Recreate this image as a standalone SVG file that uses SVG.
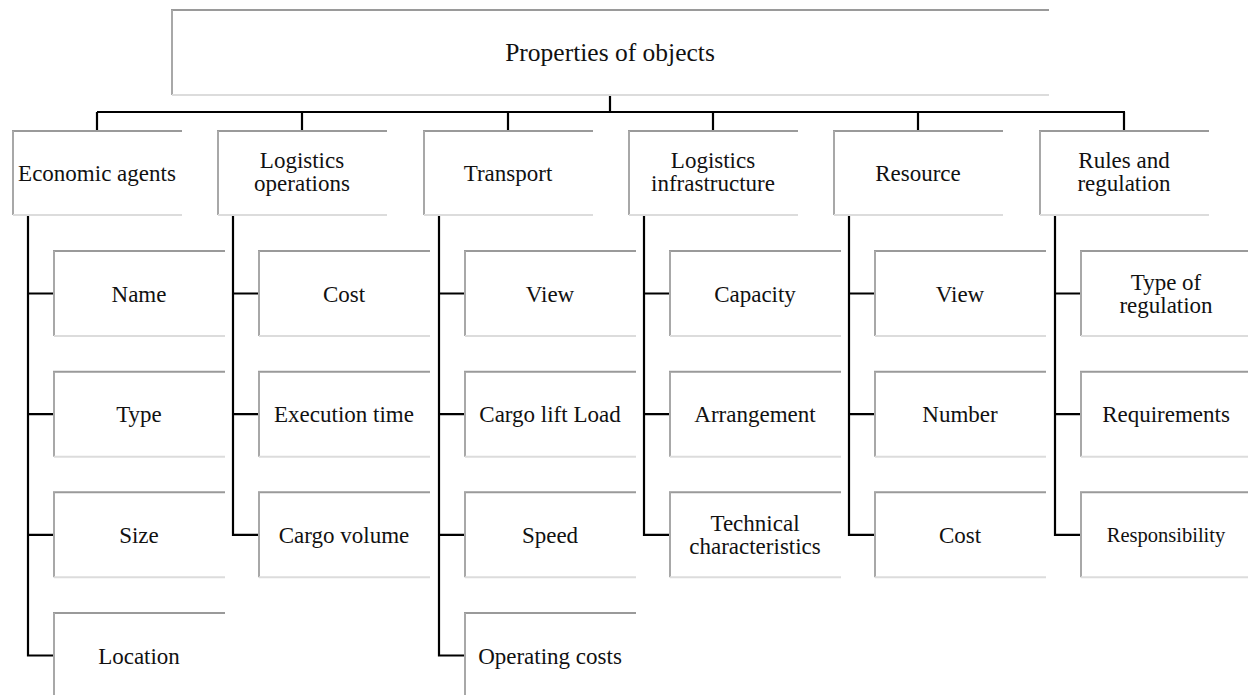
<svg xmlns="http://www.w3.org/2000/svg" width="1248" height="695" viewBox="0 0 1248 695">
<style>
.t{stroke:#9a9a9a;stroke-width:2;fill:none}
.l{stroke:#a8a8a8;stroke-width:2;fill:none}
.b{stroke:#dcdcdc;stroke-width:2;fill:none}
.c{stroke:#000;stroke-width:2.2;fill:none}
text{font-family:"Liberation Serif","Times New Roman",serif;font-size:23px;fill:#111;text-anchor:middle}
.sm{font-size:20.5px}
.lg{font-size:25.5px}
</style>
<rect width="1248" height="695" fill="#fff"/>
<g id="connectors">
<path class="c" d="M610 95V112M97 112H1125M97 112V131M302 112V131M508 112V131M713 112V131M918 112V131M1124 112V131"/>
<path class="c" d="M28 215V655.5H53M28 293.5H53M28 414.2H53M28 534.8H53"/>
<path class="c" d="M233 215V534.8H258M233 293.5H258M233 414.2H258"/>
<path class="c" d="M439 215V655.5H464M439 293.5H464M439 414.2H464M439 534.8H464"/>
<path class="c" d="M644 215V534.8H669M644 293.5H669M644 414.2H669"/>
<path class="c" d="M849 215V534.8H874M849 293.5H874M849 414.2H874"/>
<path class="c" d="M1055 215V534.8H1080M1055 293.5H1080M1055 414.2H1080"/>
</g>
<g id="root"><path class="t" d="M171 10H1049"/><path class="l" d="M172 10V95"/><path class="b" d="M172 95H1049"/><text class="lg" x="610" y="61">Properties of objects</text></g>
<g id="economic-agents"><path class="t" d="M12 131H182"/><path class="l" d="M13 131V215"/><path class="b" d="M13 215H182"/><text x="97" y="181">Economic agents</text></g>
<g id="logistics-operations"><path class="t" d="M217 131H387"/><path class="l" d="M218 131V215"/><path class="b" d="M218 215H387"/><text x="302" y="168">Logistics</text><text x="302" y="191">operations</text></g>
<g id="transport"><path class="t" d="M423 131H593"/><path class="l" d="M424 131V215"/><path class="b" d="M424 215H593"/><text x="508" y="181">Transport</text></g>
<g id="logistics-infrastructure"><path class="t" d="M628 131H798"/><path class="l" d="M629 131V215"/><path class="b" d="M629 215H798"/><text x="713" y="168">Logistics</text><text x="713" y="191">infrastructure</text></g>
<g id="resource"><path class="t" d="M833 131H1003"/><path class="l" d="M834 131V215"/><path class="b" d="M834 215H1003"/><text x="918" y="181">Resource</text></g>
<g id="rules-and-regulation"><path class="t" d="M1039 131H1209"/><path class="l" d="M1040 131V215"/><path class="b" d="M1040 215H1209"/><text x="1124" y="168">Rules and</text><text x="1124" y="191">regulation</text></g>

<g id="ea-name"><path class="t" d="M53 251H225"/><path class="l" d="M54 251V336"/><path class="b" d="M54 336H225"/><text x="139" y="301.5">Name</text></g>
<g id="ea-type"><path class="t" d="M53 371.7H225"/><path class="l" d="M54 371.7V456.7"/><path class="b" d="M54 456.7H225"/><text x="139" y="422.2">Type</text></g>
<g id="ea-size"><path class="t" d="M53 492.3H225"/><path class="l" d="M54 492.3V577.3"/><path class="b" d="M54 577.3H225"/><text x="139" y="542.8">Size</text></g>
<g id="ea-location"><path class="t" d="M53 613H225"/><path class="l" d="M54 613V698"/><text x="139" y="663.5">Location</text></g>

<g id="lo-cost"><path class="t" d="M258 251H430"/><path class="l" d="M259 251V336"/><path class="b" d="M259 336H430"/><text x="344" y="301.5">Cost</text></g>
<g id="lo-time"><path class="t" d="M258 371.7H430"/><path class="l" d="M259 371.7V456.7"/><path class="b" d="M259 456.7H430"/><text x="344" y="422.2">Execution time</text></g>
<g id="lo-volume"><path class="t" d="M258 492.3H430"/><path class="l" d="M259 492.3V577.3"/><path class="b" d="M259 577.3H430"/><text x="344" y="542.8">Cargo volume</text></g>

<g id="tr-view"><path class="t" d="M464 251H636"/><path class="l" d="M465 251V336"/><path class="b" d="M465 336H636"/><text x="550" y="301.5">View</text></g>
<g id="tr-lift"><path class="t" d="M464 371.7H636"/><path class="l" d="M465 371.7V456.7"/><path class="b" d="M465 456.7H636"/><text x="550" y="422.2">Cargo lift Load</text></g>
<g id="tr-speed"><path class="t" d="M464 492.3H636"/><path class="l" d="M465 492.3V577.3"/><path class="b" d="M465 577.3H636"/><text x="550" y="542.8">Speed</text></g>
<g id="tr-costs"><path class="t" d="M464 613H636"/><path class="l" d="M465 613V698"/><text x="550" y="663.5">Operating costs</text></g>

<g id="li-capacity"><path class="t" d="M669 251H841"/><path class="l" d="M670 251V336"/><path class="b" d="M670 336H841"/><text x="755" y="301.5">Capacity</text></g>
<g id="li-arrangement"><path class="t" d="M669 371.7H841"/><path class="l" d="M670 371.7V456.7"/><path class="b" d="M670 456.7H841"/><text x="755" y="422.2">Arrangement</text></g>
<g id="li-technical"><path class="t" d="M669 492.3H841"/><path class="l" d="M670 492.3V577.3"/><path class="b" d="M670 577.3H841"/><text x="755" y="531.3">Technical</text><text x="755" y="554.3">characteristics</text></g>

<g id="rs-view"><path class="t" d="M874 251H1046"/><path class="l" d="M875 251V336"/><path class="b" d="M875 336H1046"/><text x="960" y="301.5">View</text></g>
<g id="rs-number"><path class="t" d="M874 371.7H1046"/><path class="l" d="M875 371.7V456.7"/><path class="b" d="M875 456.7H1046"/><text x="960" y="422.2">Number</text></g>
<g id="rs-cost"><path class="t" d="M874 492.3H1046"/><path class="l" d="M875 492.3V577.3"/><path class="b" d="M875 577.3H1046"/><text x="960" y="542.8">Cost</text></g>

<g id="rr-type"><path class="t" d="M1080 251H1252"/><path class="l" d="M1081 251V336"/><path class="b" d="M1081 336H1252"/><text x="1166" y="290">Type of</text><text x="1166" y="313">regulation</text></g>
<g id="rr-req"><path class="t" d="M1080 371.7H1252"/><path class="l" d="M1081 371.7V456.7"/><path class="b" d="M1081 456.7H1252"/><text x="1166" y="422.2">Requirements</text></g>
<g id="rr-resp"><path class="t" d="M1080 492.3H1252"/><path class="l" d="M1081 492.3V577.3"/><path class="b" d="M1081 577.3H1252"/><text class="sm" x="1166" y="542">Responsibility</text></g>
</svg>
